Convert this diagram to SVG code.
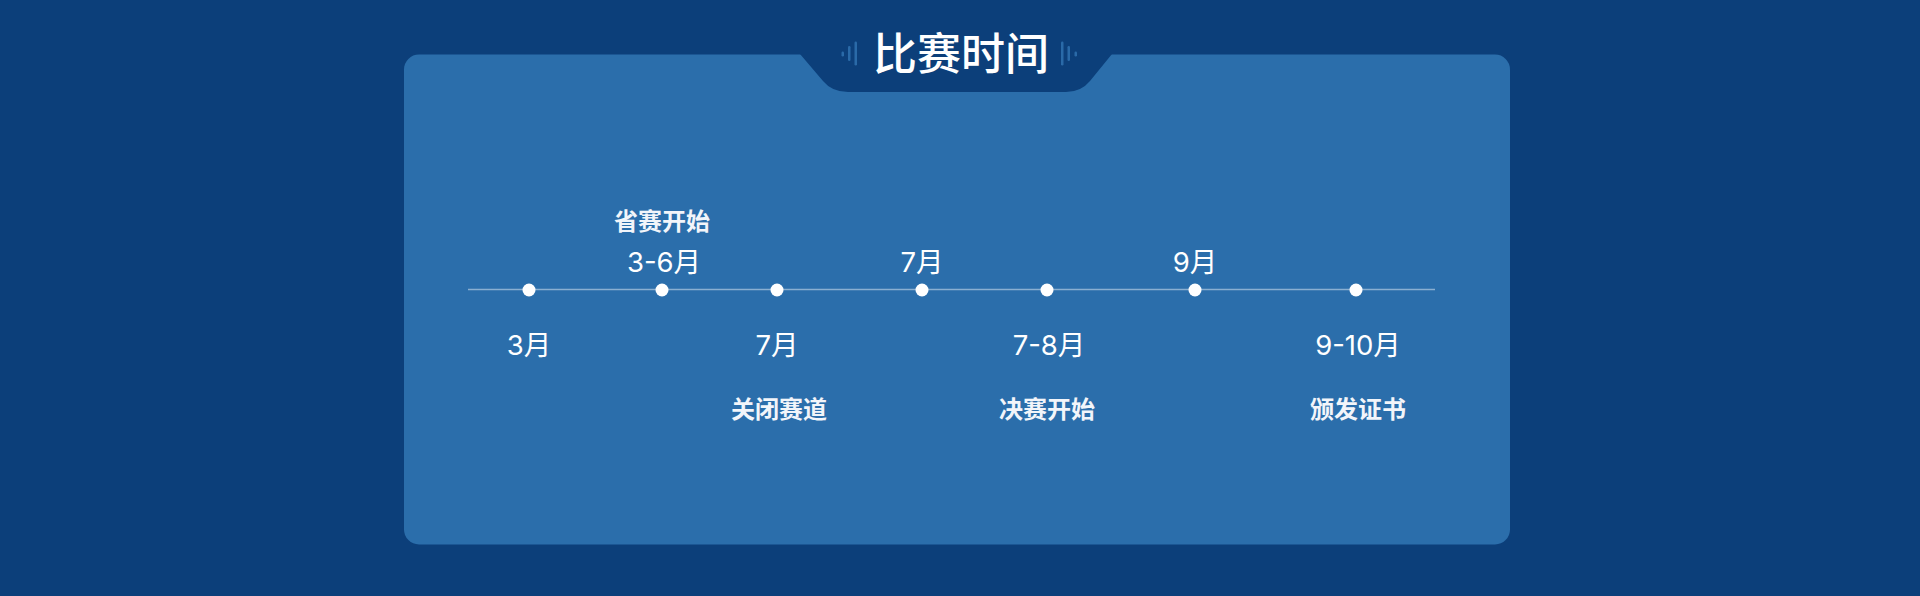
<svg xmlns="http://www.w3.org/2000/svg" width="1920" height="596" viewBox="0 0 1920 596">
  <style>
    .num { font-family: Inter, "Noto Sans CJK SC", sans-serif; font-size: 27.5px; fill: #ffffff; text-anchor: middle; }
    .lbl { font-family: "Noto Sans CJK SC", sans-serif; font-size: 24px; font-weight: 700; fill: #f2f5fa; text-anchor: middle; }
    .title { font-family: "Noto Sans CJK SC", sans-serif; font-size: 44px; font-weight: 500; fill: #ffffff; text-anchor: middle; }
    .dot { fill: #ffffff; }
    .bar { fill: #2a6aa8; }
  </style>
  <rect x="0" y="0" width="1920" height="596" fill="#0c3f7a"/>
  <g id="panel">
    <rect x="404" y="54.5" width="1106" height="490" rx="15" ry="15" fill="#2b6eab"/>
    <path d="M800,54 L823,81 Q832,92 848,92 L1066,92 Q1081,92 1090,81 L1112,54 Z" fill="#0c3f7a"/>
  </g>
  <g id="title">
    <rect class="bar" x="841.5" y="51.5" width="2.5" height="5" rx="1.2"/>
    <rect class="bar" x="848" y="46" width="2.5" height="15" rx="1.2"/>
    <rect class="bar" x="854.5" y="41.5" width="2.5" height="24" rx="1.2"/>
    <text class="title" x="961" y="70">比赛时间</text>
    <rect class="bar" x="1061" y="41.5" width="2.5" height="24" rx="1.2"/>
    <rect class="bar" x="1067.5" y="46" width="2.5" height="15" rx="1.2"/>
    <rect class="bar" x="1074.5" y="51.5" width="2.5" height="5" rx="1.2"/>
  </g>
  <g id="connectors">
    <line x1="468" y1="289.5" x2="1435" y2="289.5" stroke="#ffffff" stroke-opacity="0.45" stroke-width="1.5"/>
  </g>
  <g id="node-1">
    <circle class="dot" cx="529" cy="290" r="6.5"/>
    <text class="num" x="529" y="355">3月</text>
  </g>
  <g id="node-2">
    <circle class="dot" cx="662" cy="290" r="6.5"/>
    <text class="lbl" x="662" y="230">省赛开始</text>
    <text class="num" x="664" y="272">3-6月</text>
  </g>
  <g id="node-3">
    <circle class="dot" cx="777" cy="290" r="6.5"/>
    <text class="num" x="777" y="355">7月</text>
    <text class="lbl" x="779" y="418">关闭赛道</text>
  </g>
  <g id="node-4">
    <circle class="dot" cx="922" cy="290" r="6.5"/>
    <text class="num" x="922" y="272">7月</text>
  </g>
  <g id="node-5">
    <circle class="dot" cx="1047" cy="290" r="6.5"/>
    <text class="num" x="1049" y="355">7-8月</text>
    <text class="lbl" x="1047" y="418">决赛开始</text>
  </g>
  <g id="node-6">
    <circle class="dot" cx="1195" cy="290" r="6.5"/>
    <text class="num" x="1195" y="272">9月</text>
  </g>
  <g id="node-7">
    <circle class="dot" cx="1356" cy="290" r="6.5"/>
    <text class="num" x="1358" y="355">9-10月</text>
    <text class="lbl" x="1358" y="418">颁发证书</text>
  </g>
</svg>
